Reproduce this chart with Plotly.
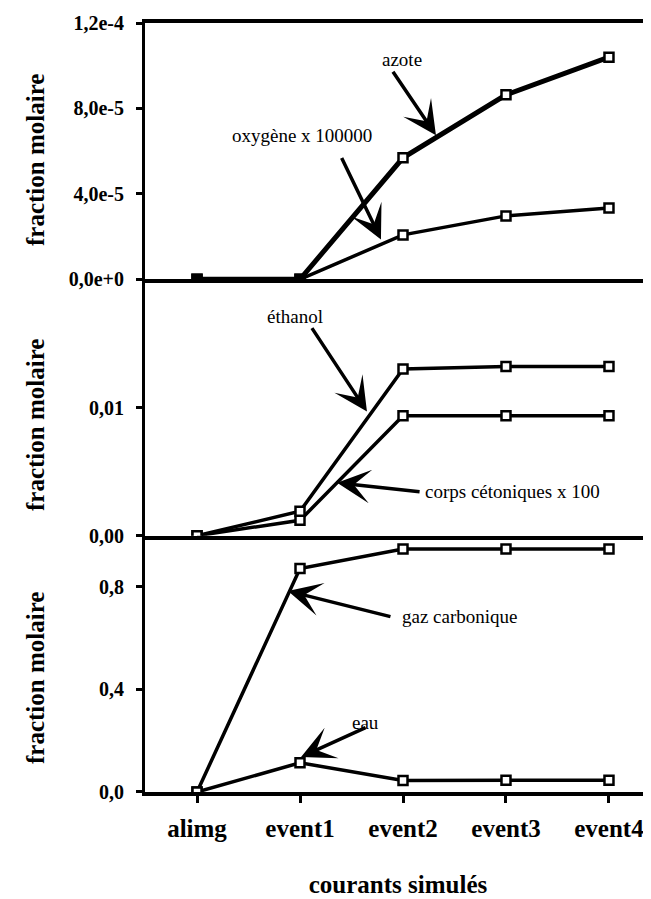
import plotly.graph_objects as go
from plotly.subplots import make_subplots

# ---------------- data ----------------
categories = ["alimg", "event1", "event2", "event3", "event4"]

# top panel
azote = [0.0, 0.0, 5.69e-5, 8.64e-5, 1.04e-4]
oxygene_x100000 = [0.0, 0.0, 2.08e-5, 2.97e-5, 3.34e-5]

# middle panel
ethanol = [0.0, 0.0019, 0.0130, 0.0132, 0.0132]
corps_cetoniques_x100 = [0.0, 0.0012, 0.00935, 0.00935, 0.00935]

# bottom panel
gaz_carbonique = [0.0, 0.872, 0.948, 0.948, 0.948]
eau = [0.0, 0.114, 0.045, 0.046, 0.046]

top_tickvals = [0.0, 4e-5, 8e-5, 1.2e-4]
top_ticktext = ["0,0e+0", "4,0e-5", "8,0e-5", "1,2e-4"]
mid_tickvals = [0.0, 0.01]
mid_ticktext = ["0,00", "0,01"]
bot_tickvals = [0.0, 0.4, 0.8]
bot_ticktext = ["0,0", "0,4", "0,8"]

y_title = "fraction molaire"
x_title = "courants simulés"

# ---------------- styling ----------------
SERIF = "Liberation Serif"
BLACK = "black"
xpos = list(range(len(categories)))

fig = make_subplots(rows=3, cols=1, shared_xaxes=True, vertical_spacing=0)


def add_series(vals, row, width, fill=None):
    fig.add_trace(
        go.Scatter(
            x=xpos, y=vals, mode="lines+markers",
            line=dict(color=BLACK, width=width),
            marker=dict(symbol="square", size=9,
                        color=fill if fill is not None else "white",
                        line=dict(color=BLACK, width=2.5)),
            showlegend=False, hoverinfo="skip",
        ),
        row=row, col=1,
    )


top_fill = ["black", "black", "white", "white", "white"]
add_series(oxygene_x100000, 1, 3.5, top_fill)
add_series(azote, 1, 5, top_fill)
add_series(corps_cetoniques_x100, 2, 3.5)
add_series(ethanol, 2, 3.5)
add_series(eau, 3, 3.5)
add_series(gaz_carbonique, 3, 3.5)

tickfont = dict(family=SERIF, size=20, color=BLACK, weight="bold")
xr = [-0.505, 4.408]

for r in (1, 2, 3):
    fig.update_xaxes(
        row=r, col=1, range=xr, tickvals=xpos, ticktext=categories,
        showline=True, linewidth=3.5, linecolor=BLACK,
        showgrid=False, zeroline=False,
        ticks="outside" if r == 3 else "", ticklen=7, tickwidth=3, tickcolor=BLACK,
        showticklabels=(r == 3),
        tickfont=dict(family=SERIF, size=25, color=BLACK, weight="bold"),
        ticklabelstandoff=4,
        mirror=(r == 1),
    )

fig.update_xaxes(
    row=3, col=1,
    title=dict(text=x_title, standoff=36,
               font=dict(family=SERIF, size=25, color=BLACK, weight="bold")),
)

yconf = [
    (1, [0, 1.2e-4], top_tickvals, top_ticktext),
    (2, [0, 0.02], mid_tickvals, mid_ticktext),
    (3, [0, 1.0], bot_tickvals, bot_ticktext),
]
for r, rng, tv, tt in yconf:
    fig.update_yaxes(
        row=r, col=1, range=rng, tickvals=tv, ticktext=tt,
        showline=True, linewidth=3, linecolor=BLACK,
        showgrid=False, zeroline=False,
        ticks="outside", ticklen=6, tickwidth=3, tickcolor=BLACK,
        tickfont=tickfont, ticklabelstandoff=8,
    )

annotations = []


def arrow(xref, yref, x, y, ax, ay):
    annotations.append(dict(
        xref=xref, yref=yref, x=x, y=y, ax=ax, ay=ay, text="",
        showarrow=True, arrowhead=3, arrowsize=1.6, arrowwidth=3.5,
        arrowcolor=BLACK, standoff=0, startstandoff=0,
    ))


def label(xref, yref, x, y, text):
    annotations.append(dict(
        xref=xref, yref=yref, x=x, y=y, text=text, showarrow=False,
        xanchor="center", yanchor="middle",
        font=dict(family=SERIF, size=19, color=BLACK),
    ))


# top panel
arrow("x", "y", 2.32, 6.75e-5, -44, -65)
label("x", "y", 1.99, 1.03e-4, "azote")
arrow("x", "y", 1.786, 1.87e-5, -40, -83)
label("x", "y", 1.02, 6.75e-5, "oxygène x 100000")
# middle panel
arrow("x2", "y2", 1.65, 0.00968, -56, -85)
label("x2", "y2", 0.95, 0.01712, "éthanol")
arrow("x2", "y2", 1.36, 0.00412, 84, 9)
label("x2", "y2", 3.06, 0.00342, "corps cétoniques x 100")
# bottom panel
arrow("x3", "y3", 0.883, 0.784, 104, 26)
label("x3", "y3", 2.553, 0.686, "gaz carbonique")
arrow("x3", "y3", 1.01, 0.137, 66, -30)
label("x3", "y3", 1.64, 0.27, "eau")

# y titles (one per panel, aligned at the same x)
for ypaper in (0.8218, 0.4772, 0.1482):
    annotations.append(dict(
        xref="paper", yref="paper", x=-0.2174, y=ypaper, text=y_title,
        showarrow=False, textangle=-90, xanchor="center", yanchor="middle",
        font=dict(family=SERIF, size=25, color=BLACK, weight="bold"),
    ))

# the page body adds an 8 px offset, so the figure is sized to fit the window
fig.update_layout(
    width=643, height=891,
    margin=dict(l=137, r=0, t=15, b=107),
    paper_bgcolor="white", plot_bgcolor="white",
    showlegend=False,
    annotations=annotations,
)

fig.write_html("out.html")
